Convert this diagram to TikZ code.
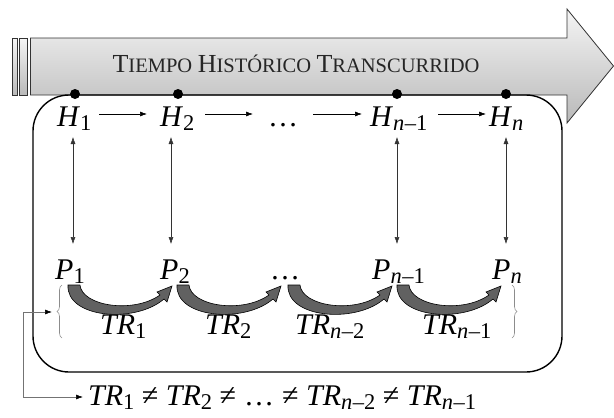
\documentclass[tikz,border=0pt]{standalone}
\usepackage{fontspec}
\setmainfont{Liberation Serif}
\usetikzlibrary{arrows.meta,decorations.pathreplacing}
\newcommand\lsub[1]{\raisebox{-4pt}{\fontsize{22.5}{22.5}\selectfont #1}}
\newcommand\nmo{\textit{n}\kern0.5pt–1}
\newcommand\nmt{\textit{n}\kern0.5pt–2}
\newcommand\bigc[1]{{\fontsize{26}{26}\selectfont #1}}
\newcommand\smc[1]{{\fontsize{20.5}{20.5}\selectfont #1}}
\begin{document}
\begin{tikzpicture}[x=1pt,y=-1pt,
  lab/.style={inner sep=0pt, anchor=base west, font=\fontsize{30}{30}\selectfont},
  harrow/.style={-{Latex[length=7pt,width=5pt]}, line width=0.6pt},
  varrow/.style={{Latex[length=7pt,width=5pt]}-{Latex[length=7pt,width=5pt]}, line width=0.5pt, black!80},
  arrowbody/.style={draw=black!80, line width=0.8pt, top color=gray!8, bottom color=gray!55},
  tarcstyle/.style={draw=black, line width=0.6pt, fill=black!62},
  hdot/.style={circle, fill=black, inner sep=0pt, minimum size=10pt},
  bracestyle/.style={draw=black!45, line width=0.6pt, decorate, decoration={brace, amplitude=5pt}},
  boxline/.style={draw=black, line width=1.4pt, rounded corners=36pt}]
\useasboundingbox (0,0) rectangle (614,418);
% big time arrow
\path[arrowbody] (30.5,38) -- (567,38) -- (567,9) -- (613.5,66) -- (567,123) -- (567,95) -- (30.5,95) -- cycle;
\path[arrowbody] (12.5,38) rectangle (17,95);
\path[arrowbody] (19.5,38) rectangle (27,95);
\node[inner sep=0pt, anchor=base, text=black!85, font=\fontsize{22}{22}\selectfont] (title) at (296,72)
  {\bigc{T}\smc{IEMPO} \bigc{H}\smc{ISTÓRICO} \bigc{T}\smc{RANSCURRIDO}};
% rounded box
\draw[boxline] (33,95) rectangle (562,372);
% dots on timeline
\node[hdot] (d1) at (75,94) {};
\node[hdot] (d2) at (178,94) {};
\node[hdot] (d3) at (397,94) {};
\node[hdot] (d4) at (506,94) {};
% H row
\node[lab] (H1) at (57,126) {\textit{H}\lsub{1}};
\node[lab] (H2) at (160,126) {\textit{H}\lsub{2}};
\node[lab] (Hd) at (268,126) {…};
\node[lab] (H3) at (370,126) {\textit{H}\lsub{\nmo}};
\node[lab] (H4) at (489,126) {\textit{H}\lsub{\textit{n}}};
% P row
\node[lab] (P1) at (55,279) {\textit{P}\lsub{1}};
\node[lab] (P2) at (160,279) {\textit{P}\lsub{2}};
\node[lab] (Pd) at (270,279) {…};
\node[lab] (P3) at (372,279) {\textit{P}\lsub{\nmo}};
\node[lab] (P4) at (492,279) {\textit{P}\lsub{\textit{n}}};
% horizontal arrows
\coordinate (a1s) at (99,114); \coordinate (a1e) at (147,114);
\coordinate (a2s) at (205,114); \coordinate (a2e) at (253,114);
\coordinate (a3s) at (313,114); \coordinate (a3e) at (362,114);
\coordinate (a4s) at (438,114); \coordinate (a4e) at (486,114);
\draw[harrow] (a1s) -- (a1e);
\draw[harrow] (a2s) -- (a2e);
\draw[harrow] (a3s) -- (a3e);
\draw[harrow] (a4s) -- (a4e);
% vertical double arrows
\coordinate (v1t) at (73,137); \coordinate (v1b) at (73,244);
\coordinate (v2t) at (171,137); \coordinate (v2b) at (171,244);
\coordinate (v3t) at (397,137); \coordinate (v3b) at (397,244);
\coordinate (v4t) at (506,137); \coordinate (v4b) at (506,244);
\draw[varrow] (v1t) -- (v1b);
\draw[varrow] (v2t) -- (v2b);
\draw[varrow] (v3t) -- (v3b);
\draw[varrow] (v4t) -- (v4b);
% thick curved arrows
\foreach \sx in {68,177,288,397}{
  \path[tarcstyle, shift={(\sx,0)}] (0,285) .. controls (-2,318) and (67,324) .. (96,299)
    -- (99,302) -- (104,286) -- (89,292) -- (92,295)
    .. controls (65,314) and (14,306) .. (12,285) -- cycle;
}
% TR labels
\node[lab] (T1) at (100,334) {\textit{TR}\lsub{1}};
\node[lab] (T2) at (205,334) {\textit{TR}\lsub{2}};
\node[lab] (T3) at (295,334) {\textit{TR}\lsub{\nmt}};
\node[lab] (T4) at (422,334) {\textit{TR}\lsub{\nmo}};
% braces
\coordinate (bl1) at (62,338); \coordinate (bl2) at (62,285);
\coordinate (br1) at (512,285); \coordinate (br2) at (512,338);
\draw[bracestyle] (bl1) -- (bl2);
\draw[bracestyle] (br1) -- (br2);
\coordinate (btip) at (52,312);
% equation
\node[lab] (eq) at (88,405) {\textit{TR}\lsub{1} ≠ \textit{TR}\lsub{2} ≠\hspace{8pt}…\hspace{8pt}≠ \textit{TR}\lsub{\nmt} ≠ \textit{TR}\lsub{\nmo}};
\coordinate (eqw) at (83,397);
\draw[black!55, line width=0.6pt, {Latex[length=7pt,width=5pt,color=black]}-{Latex[length=7pt,width=5pt,color=black]}]
  (btip) -- (23,312) |- (eqw);
\end{tikzpicture}
\end{document}
